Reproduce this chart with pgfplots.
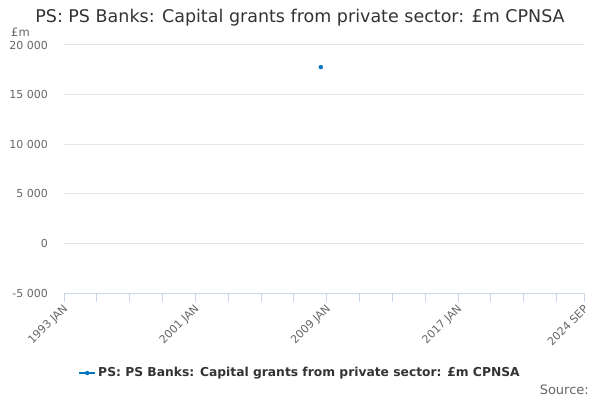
\documentclass[border=0pt]{standalone}
\usepackage{pgfplots}
\pgfplotsset{compat=1.18}
\usepackage{fontspec}
\setmainfont{DejaVu Sans}
\definecolor{ser}{HTML}{0076BF}
\definecolor{axl}{HTML}{CCD6EB}
\definecolor{grd}{HTML}{E6E6E6}
\definecolor{tx}{HTML}{666666}
\definecolor{tt}{HTML}{333333}
\begin{document}
\begin{tikzpicture}[x=1bp,y=1bp]
\useasboundingbox (0,0) rectangle (600,400);
\begin{axis}[
  at={(64bp,107bp)}, anchor=south west,
  scale only axis, width=520bp, height=248bp,
  xmin=1993, xmax=2024.6667, ymin=-5000, ymax=20000,
  axis x line*=bottom, axis y line*=left,
  x axis line style={draw=axl, line width=1bp, -},
  y axis line style={draw=none},
  xtick={1993,2001,2009,2017,2024.6667},
  xticklabels={1993 JAN,2001 JAN,2009 JAN,2017 JAN,2024 SEP},
  minor xtick={1995,1997,1999,2003,2005,2007,2011,2013,2015,2019,2021,2023},
  xtick style={draw=axl, line width=1bp},
  minor x tick style={draw=axl, line width=1bp},
  tick align=outside, major tick length=9bp, minor tick length=9bp,
  ytick={-5000,0,5000,10000,15000,20000},
  yticklabels={-5 000,0,5 000,10 000,15 000,20 000},
  scaled y ticks=false,
  ytick style={draw=none},
  ymajorgrids, grid style={draw=grd, line width=1bp},
  xticklabel style={rotate=45, anchor=east, inner sep=0pt, xshift=-2bp, yshift=-5bp, text=tx, font=\fontsize{11bp}{13bp}\selectfont},
  yticklabel style={anchor=east, inner sep=0pt, xshift=-7bp, text=tx, font=\fontsize{11bp}{13bp}\selectfont},
  legend style={at={(0.4538,-0.3226)}, anchor=center, draw=none, fill=none,
    font=\bfseries\fontsize{12.3bp}{15bp}\selectfont, text=tt},
  legend cell align=left,
  clip=false,
]
\addplot[only marks, mark=*, mark size=2bp, color=ser,
  legend image code/.code={\draw[ser, line width=2bp] (0bp,0bp) -- (16bp,0bp); \fill[ser] (8bp,0bp) circle (2bp);}]
  coordinates {(2008.64,17770)};
\addlegendentry{PS: PS Banks: Capital grants from private sector: £m CPNSA}
\end{axis}
\node[text=tt, font=\fontsize{17.5bp}{20bp}\selectfont] at (300,382) {PS: PS Banks: Capital grants from private sector: £m CPNSA};
\node[text=tx, anchor=west, inner sep=0pt, font=\fontsize{11.5bp}{13bp}\selectfont] at (11,368) {£m};
\node[text=tx, anchor=east, inner sep=0pt, font=\fontsize{13bp}{15bp}\selectfont] at (589,10) {Source:};
\end{tikzpicture}
\end{document}
